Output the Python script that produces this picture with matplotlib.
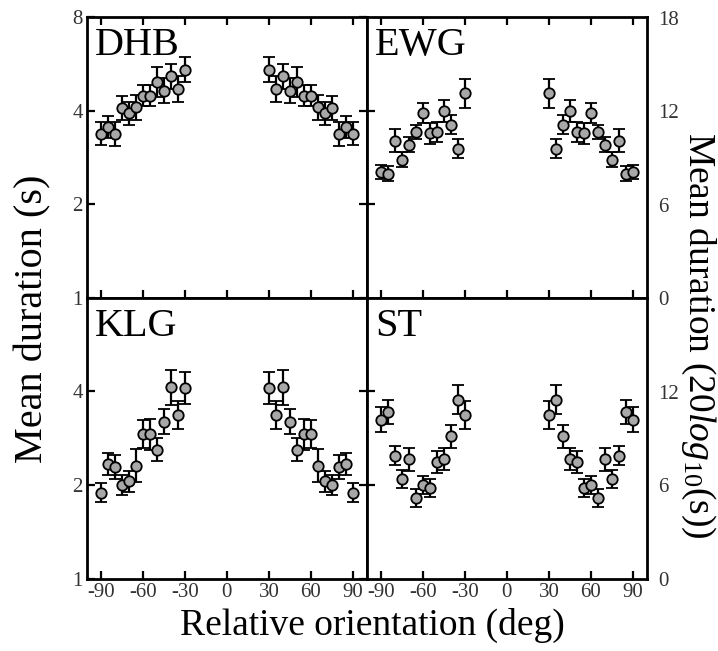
import matplotlib

matplotlib.use("Agg")
import matplotlib.pyplot as plt
import numpy as np

plt.rcParams["font.family"] = ["Liberation Serif", "DejaVu Serif"]
plt.rcParams["mathtext.fontset"] = "custom"
plt.rcParams["mathtext.rm"] = "Liberation Serif"
plt.rcParams["mathtext.it"] = "Liberation Serif:italic"

# orientation (deg), two flanks of the tested range
orientation = [-90, -85, -80, -75, -70, -65, -60, -55, -50, -45, -40, -35, -30,
               30, 35, 40, 45, 50, 55, 60, 65, 70, 75, 80, 85, 90]

subjects = ["DHB", "EWG", "KLG", "ST"]

# mean duration (s)
dhb_mean = [3.37, 3.54, 3.37, 4.07, 3.92, 4.10, 4.47, 4.47, 4.93, 4.64, 5.15, 4.69, 5.41,
            5.41, 4.69, 5.15, 4.64, 4.93, 4.47, 4.47, 4.10, 3.92, 4.07, 3.37, 3.54, 3.37]
ewg_mean = [2.54, 2.51, 3.20, 2.78, 3.11, 3.42, 3.93, 3.38, 3.41, 3.98, 3.60, 3.02, 4.54,
            4.54, 3.02, 3.60, 3.98, 3.41, 3.38, 3.93, 3.42, 3.11, 2.78, 3.20, 2.51, 2.54]
klg_mean = [1.89, 2.34, 2.29, 2.00, 2.06, 2.31, 2.92, 2.91, 2.60, 3.20, 4.12, 3.36, 4.10,
            4.10, 3.36, 4.12, 3.20, 2.60, 2.91, 2.92, 2.31, 2.06, 2.00, 2.29, 2.34, 1.89]
st_mean = [3.25, 3.43, 2.49, 2.09, 2.42, 1.82, 2.00, 1.96, 2.37, 2.43, 2.87, 3.76, 3.37,
           3.37, 3.76, 2.87, 2.43, 2.37, 1.96, 2.00, 1.82, 2.42, 2.09, 2.49, 3.43, 3.25]

# error half-width in dB (20 log10 s)
dhb_err = [0.73, 0.68, 0.77, 0.77, 0.75, 0.79, 0.70, 0.70, 0.96, 0.83, 0.79, 0.85, 0.79,
           0.79, 0.85, 0.79, 0.83, 0.96, 0.70, 0.70, 0.79, 0.75, 0.77, 0.77, 0.68, 0.73]
ewg_err = [0.45, 0.51, 0.73, 0.47, 0.47, 0.45, 0.64, 0.66, 0.64, 0.70, 0.62, 0.62, 0.92,
           0.92, 0.62, 0.62, 0.70, 0.64, 0.66, 0.64, 0.45, 0.47, 0.47, 0.73, 0.51, 0.45]
klg_err = [0.60, 0.73, 0.77, 0.64, 0.68, 1.07, 0.90, 0.98, 0.73, 0.79, 1.13, 0.92, 1.02,
           1.02, 0.92, 1.13, 0.79, 0.73, 0.98, 0.90, 1.07, 0.68, 0.64, 0.77, 0.73, 0.60]
st_err = [0.79, 0.77, 0.64, 0.56, 0.75, 0.58, 0.56, 0.60, 0.70, 0.70, 0.73, 0.94, 0.90,
          0.90, 0.94, 0.73, 0.70, 0.70, 0.60, 0.56, 0.58, 0.75, 0.56, 0.64, 0.77, 0.79]

means = [dhb_mean, ewg_mean, klg_mean, st_mean]
errs = [dhb_err, ewg_err, klg_err, st_err]

x_ticks = [-90, -60, -30, 0, 30, 60, 90]


def to_db(s):
    return 20 * np.log10(s)


def from_db(d):
    return 10 ** (np.asarray(d) / 20)


fig = plt.figure(figsize=(7.18, 6.51), dpi=100)
left, right, top, bottom = 0.121, 0.901, 0.974, 0.111
w = (right - left) / 2
h = (top - bottom) / 2
label_kw = dict(labelsize=15, labelcolor="#333333")

for i, name in enumerate(subjects):
    row, col = divmod(i, 2)
    ax = fig.add_axes([left + col * w, top - (row + 1) * h, w, h])
    m = np.array(means[i])
    e = np.array(errs[i])
    lo = m - m / from_db(e)
    hi = m * from_db(e) - m
    ax.errorbar(orientation, m, yerr=[lo, hi], fmt="o", color="black",
                mfc="#a8a8a8", mec="black", ms=7.5, mew=1.3,
                elinewidth=1.6, capsize=4, capthick=1.6, zorder=3)

    ax.set_yscale("log", base=2)
    ax.set_ylim(1, 8)
    ax.set_xlim(-100, 100)
    ax.minorticks_off()
    ax.set_xticks(x_ticks)
    for sp in ax.spines.values():
        sp.set_linewidth(2)
    ax.tick_params(direction="in", length=6, width=1.6, pad=3, **label_kw)

    if row == 0:
        ax.tick_params(top=True, labelbottom=False)
    else:
        ax.set_xticklabels([str(t) for t in x_ticks])

    if col == 0:
        ax.tick_params(right=True)
        ax.set_yticks([1, 2, 4, 8] if row == 0 else [1, 2, 4])
        ax.set_yticklabels(["1", "2", "4", "8"] if row == 0 else ["1", "2", "4"])
    else:
        ax.set_yticks([2, 4])
        ax.tick_params(left=False, right=True, labelleft=False)
        twin = ax.twinx()
        twin.set_ylim(to_db(1), to_db(8))
        twin.set_yticks([0, 6, 12, 18] if row == 0 else [0, 6, 12])
        twin.tick_params(direction="in", length=0, pad=8, **label_kw)
        for sp in twin.spines.values():
            sp.set_visible(False)

    ax.text(0.03, 0.865, name, transform=ax.transAxes, fontsize=29,
            ha="left", va="baseline")

fig.text(0.518, 0.04, "Relative orientation (deg)", ha="center", va="center",
         fontsize=27)
fig.text(0.046, 0.511, "Mean duration (s)", rotation=90, ha="center", va="center",
         fontsize=29)
fig.text(0.972, 0.485, r"Mean duration (20$\mathit{log}_{10}$(s))", rotation=270,
         ha="center", va="center", fontsize=27)

fig.savefig("out.png", dpi=100)
